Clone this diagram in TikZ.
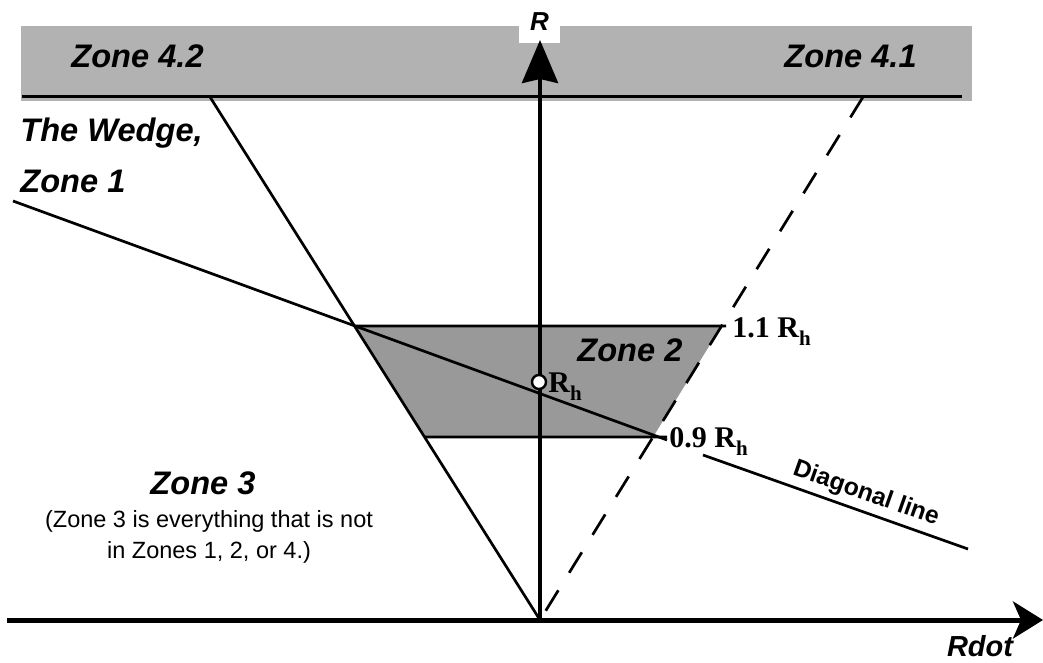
\documentclass[tikz,border=0pt]{standalone}
\usepackage{fontspec}
\setmainfont{Liberation Sans}
\newfontfamily\serifbf{Liberation Serif}
\usetikzlibrary{arrows.meta,calc}
\newcommand{\Rhsub}{R\raisebox{-0.27em}{\fontsize{10.5pt}{12pt}\selectfont h}}
\definecolor{bandgray}{gray}{0.70}
\definecolor{trapgray}{gray}{0.60}
\begin{document}
\begin{tikzpicture}[x=0.5pt,y=-0.5pt,
  zonelbl/.style={font=\fontsize{16.3pt}{25.5pt}\selectfont\bfseries\itshape, inner sep=0pt},
  rlbl/.style={font=\fontsize{15pt}{18pt}\selectfont\serifbf\bfseries, inner sep=0pt, anchor=base west},
  zline/.style={line width=1.35pt},
  dashline/.style={line width=1.35pt, dash pattern=on 12pt off 10.3pt},
  vaxis/.style={line width=2pt, -{Stealth[length=21.5pt,width=18pt,inset=2pt]}},
  haxis/.style={line width=2.5pt, -{Stealth[length=15pt,width=18.5pt,inset=4pt]}}
]
\useasboundingbox (0,0) rectangle (1043,663);

% coordinates
\coordinate (O) at (540,620);
\coordinate (W) at (210,97);
\coordinate (D) at (863,97);
\coordinate (Xs) at (7,620);
\coordinate (Xe) at (1043,620);
\coordinate (Rtip) at (540,40);
\coordinate (TL) at ($(O)!0.5621!(W)$);
\coordinate (TR) at ($(O)!0.5621!(D)$);
\coordinate (BL) at ($(O)!0.3499!(W)$);
\coordinate (BR) at ($(O)!0.3499!(D)$);
\coordinate (Tend) at (726,326);
\coordinate (Bend) at (667,437);
\coordinate (G1s) at (13,201);
\coordinate (G1e) at (667,440);
\coordinate (G2s) at (703,455);
\coordinate (G2e) at (968,549);
\coordinate (Ls) at (22,97);
\coordinate (Le) at (962,97);

% top band (Zone 4)
\fill[bandgray] (21,26) rectangle (972,101);
\draw[line width=1.5pt] (Ls) -- (Le);
\node[zonelbl, anchor=base west] (z42) at (71,68) {Zone 4.2};
\node[zonelbl, anchor=base west] (z41) at (784,68) {Zone 4.1};

% Zone 2 trapezoid
\fill[trapgray] (TL) -- (TR) -- (BR) -- (BL) -- cycle;
\draw[zline] (TL) -- (Tend);
\draw[zline] (BL) -- (Bend);

% wedge lines
\draw[zline] (W) -- (O);
\draw[dashline] (D) -- (O);

% diagonal line
\draw[zline] (G1s) -- (G1e);
\draw[zline] (G2s) -- (G2e);

% R label box and axes
\node[fill=white, minimum width=20.5pt, minimum height=21.5pt, inner sep=0pt,
      font=\fontsize{13pt}{15pt}\selectfont\bfseries\itshape] (Rlbl) at (539.5,21.5) {R};
\draw[vaxis] (O) -- (Rtip);
\draw[haxis] (Xs) -- (Xe);
\node[font=\fontsize{14.5pt}{17pt}\selectfont\bfseries\itshape, inner sep=0pt, anchor=base] (rdot) at (980,656) {Rdot};

% R_h point
\node[circle, draw, line width=1.2pt, fill=white, minimum size=7pt, inner sep=0pt] (hc) at (539,382) {};
\node[rlbl] (rh) at (548,392) {\Rhsub};
\node[rlbl] (r11) at (732,337) {1.1 \Rhsub};
\node[rlbl] (r09) at (669,447) {0.9 \Rhsub};

% labels
\node[zonelbl, anchor=base west] (z2) at (577,361) {Zone 2};
\node[zonelbl, anchor=north west, align=left] (wedge) at (20,117) {The Wedge,\\Zone 1};
\node[zonelbl, anchor=base] (z3) at (203,494) {Zone 3};
\node[font=\fontsize{11.75pt}{15.5pt}\selectfont, inner sep=0pt, anchor=north, align=center] (z3note) at (209,510)
  {(Zone 3 is everything that is not\\in Zones 1, 2, or 4.)};
\node[font=\fontsize{12.3pt}{14pt}\selectfont\bfseries, rotate=-19.5, inner sep=0pt] (diag) at (866,494) {Diagonal line};
\end{tikzpicture}
\end{document}
